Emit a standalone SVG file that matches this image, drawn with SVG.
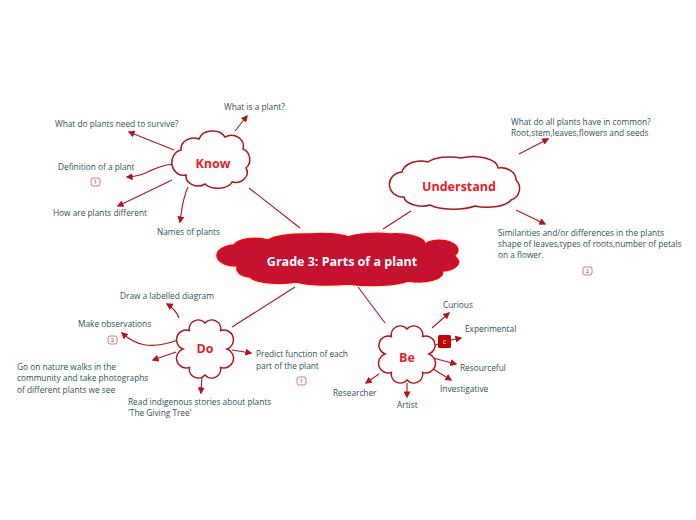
<svg xmlns="http://www.w3.org/2000/svg" width="696" height="520" viewBox="0 0 696 520">
<style>
.lbl{font-family:"Open Sans","Noto Sans",sans-serif;font-size:8.3px;fill:#2b5352}
.ttl{font-family:"Open Sans","Noto Sans",sans-serif;font-weight:bold;fill:#ec1c24;text-anchor:middle}
.cl{fill:#fff;stroke:#b5121b;stroke-width:1.5}
.cn{fill:none;stroke:#b5121b;stroke-width:1.1}
.ar{fill:none;stroke:#b5121b;stroke-width:1.1;marker-end:url(#ah)}
.bd{fill:#fff;stroke:#d9534f;stroke-width:0.8}
.bt{font-family:"Open Sans","Noto Sans",sans-serif;font-size:6px;fill:#555;text-anchor:middle}
</style>
<defs>
<marker id="ah" viewBox="0 0 10 10" refX="8" refY="5" markerWidth="7" markerHeight="7" markerUnits="userSpaceOnUse" orient="auto">
<path d="M0,0 L10,5 L0,10 z" fill="#b5121b"/>
</marker>
</defs>
<rect width="696" height="520" fill="#fff"/>
<g id="connectors">
<line class="cn" x1="249" y1="188" x2="300" y2="228"/>
<line class="cn" x1="383" y1="229" x2="411" y2="211"/>
<line class="cn" x1="295" y1="287" x2="232" y2="327"/>
<line class="cn" x1="358" y1="287" x2="385" y2="323"/>
<path class="ar" d="M235,131 L247,116"/>
<path class="ar" d="M174,150 L129,132"/>
<path class="ar" d="M174,164 C150,166 150,176 127,177"/>
<path class="ar" d="M172,180 L118,206"/>
<path class="ar" d="M188,187 C182,200 182,210 180,222"/>
<path class="ar" d="M519,154 L548,139"/>
<path class="ar" d="M516,210 L545,224"/>
<path class="ar" d="M179,318 C176,310 172,307 167,304"/>
<path class="ar" d="M178,340 C150,350 135,345 122,333"/>
<path class="ar" d="M176,352 L153,360"/>
<path class="ar" d="M202,375 L201,393"/>
<path class="ar" d="M232,350 L251,353"/>
<path class="ar" d="M432,328 L449,313"/>
<path class="cn" d="M433,346 L438,344"/>
<path class="ar" d="M451,340 L461,338"/>
<path class="ar" d="M433,358 L456,364"/>
<path class="ar" d="M433,369 L451,380"/>
<path class="ar" d="M407,383 L407,397"/>
<path class="ar" d="M379,374 L366,383"/>
</g>
<g id="center">
<path d="M234,245 A22,9 0 0 1 268,240 A38,9 0 0 1 310,234 A32,8 0 0 1 348,237 A34,8 0 0 1 390,234 A30,10 0 0 1 425,244 A17,9 0 0 1 454,256 A18,9 0 0 1 442,271 A24,9 0 0 1 408,281 A40,8 0 0 1 348,284 A40,8 0 0 1 296,282 A30,8 0 0 1 250,277 A14,8 0 0 1 238,266 A18,10 0 0 1 234,245 Z" fill="#c41230" stroke="#f00" stroke-width="1.5"/>
<text x="342" y="266" font-family="Open Sans, Noto Sans, sans-serif" font-weight="bold" font-size="12.5" fill="#fff" text-anchor="middle">Grade 3: Parts of a plant</text>
</g>
<g id="know">
<path class="cl" d="M181,150 A13,11 0 0 1 199,139 A14,11 0 0 1 225,137 A12,11 0 0 1 243,149 A10,11 0 0 1 246,168 A12,10 0 0 1 232,182 A15,9 0 0 1 205,184 A12,10 0 0 1 186,175 A10,11 0 0 1 181,150 Z"/>
<text class="ttl" x="213" y="168" font-size="12.5">Know</text>
</g>
<g id="understand">
<path class="cl" d="M402,172 A19,13 0 0 1 428,162 A25,10 0 0 1 461,158 A25,12 0 0 1 498,168 A15,12 0 0 1 516,180 A12,12 0 0 1 511,200 A25,10 0 0 1 475,206 A28,9 0 0 1 430,205 A18,10 0 0 1 404,197 A13,12 0 0 1 402,172 Z"/>
<text class="ttl" x="459" y="191" font-size="12.5">Understand</text>
</g>
<g id="do">
<path class="cl" d="M205,323 A9,9 0 0 1 220.6,330.6 A9,9 0 0 1 227,349 A9,9 0 0 1 220.6,367.4 A9,9 0 0 1 205,375 A9,9 0 0 1 189.4,367.4 A9,9 0 0 1 183,349 A9,9 0 0 1 189.4,330.6 A9,9 0 0 1 205,323 Z"/>
<text class="ttl" x="205" y="353" font-size="12.5">Do</text>
</g>
<g id="be">
<path class="cl" d="M407,329 A9,9 0 0 1 422.6,336.6 A9,9 0 0 1 429,354 A9,9 0 0 1 422.6,372.4 A9,9 0 0 1 407,380 A9,9 0 0 1 391.4,372.4 A9,9 0 0 1 385,354 A9,9 0 0 1 391.4,336.6 A9,9 0 0 1 407,329 Z"/>
<text class="ttl" x="407" y="362" font-size="12.5">Be</text>
</g>
<g id="know-children">
<text class="lbl" x="224" y="110">What is a plant?</text>
<text class="lbl" x="55" y="127">What do plants need to survive?</text>
<text class="lbl" x="58" y="170">Definition of a plant</text>
<rect class="bd" x="91" y="178" width="9" height="8" rx="2"/><text class="bt" x="95.5" y="184">1</text>
<text class="lbl" x="53" y="216">How are plants different</text>
<text class="lbl" x="157" y="235">Names of plants</text>
</g>
<g id="understand-children">
<text class="lbl" x="511" y="125">What do all plants have in common?</text>
<text class="lbl" x="511" y="136">Root,stem,leaves,flowers and seeds</text>
<text class="lbl" x="498" y="236">Similarities and/or differences in the plants</text>
<text class="lbl" x="498" y="247">shape of leaves,types of roots,number of petals</text>
<text class="lbl" x="498" y="258">on a flower.</text>
<rect class="bd" x="583" y="267" width="9" height="8" rx="2"/><text class="bt" x="587.5" y="273">2</text>
</g>
<g id="do-children">
<text class="lbl" x="120" y="299">Draw a labelled diagram</text>
<text class="lbl" x="78" y="327">Make observations</text>
<rect class="bd" x="108" y="336" width="9" height="8" rx="2"/><text class="bt" x="112.5" y="342">2</text>
<text class="lbl" x="17" y="370">Go on nature walks in the</text>
<text class="lbl" x="17" y="381">community and take photographs</text>
<text class="lbl" x="17" y="393">of different plants we see</text>
<text class="lbl" x="128" y="405">Read indigenous stories about plants</text>
<text class="lbl" x="128" y="416">'The Giving Tree'</text>
<text class="lbl" x="256" y="357">Predict function of each</text>
<text class="lbl" x="256" y="369">part of the plant</text>
<rect class="bd" x="297" y="377" width="9" height="8" rx="2"/><text class="bt" x="301.5" y="383">1</text>
</g>
<g id="be-children">
<text class="lbl" x="443" y="308">Curious</text>
<rect x="438" y="335" width="13" height="13" rx="1.5" fill="#c00000"/>
<text x="444.5" y="344" font-family="Open Sans, sans-serif" font-size="6.5" fill="#fff" text-anchor="middle">c</text>
<text class="lbl" x="465" y="332">Experimental</text>
<text class="lbl" x="460" y="371">Resourceful</text>
<text class="lbl" x="440" y="392">Investigative</text>
<text class="lbl" x="397" y="408">Artist</text>
<text class="lbl" x="333" y="396">Researcher</text>
</g>
</svg>
